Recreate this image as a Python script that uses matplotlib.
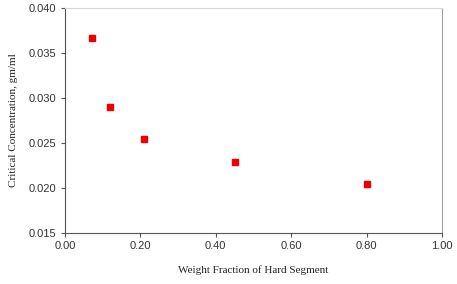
import matplotlib
matplotlib.use("Agg")
import matplotlib.pyplot as plt

# weight fraction of hard segment vs critical concentration
weight_fraction = [0.071, 0.12, 0.209, 0.45, 0.80]
critical_conc = [0.0367, 0.0290, 0.0254, 0.0229, 0.0204]

x_ticks = [0.0, 0.2, 0.4, 0.6, 0.8, 1.0]
y_ticks = [0.015, 0.020, 0.025, 0.030, 0.035, 0.040]

fig = plt.figure(figsize=(4.57, 2.84), dpi=100)
ax = fig.add_axes([0.142, 0.181, 0.825, 0.791])

ax.plot(weight_fraction, critical_conc, linestyle='none', marker='s',
        markersize=5, color='#ee0000')

ax.set_xlim(0, 1.0)
ax.set_ylim(0.015, 0.040)
ax.set_xticks(x_ticks)
ax.set_yticks(y_ticks)
ax.set_xticklabels([f"{v:.2f}" for v in x_ticks])
ax.set_yticklabels([f"{v:.3f}" for v in y_ticks])

for s in ax.spines.values():
    s.set_color('#a0a0a0')
    s.set_linewidth(0.8)
ax.spines['left'].set_color('#555555')
ax.spines['bottom'].set_color('#555555')
ax.spines['top'].set_color('#d8d8d8')

ax.tick_params(axis='both', direction='out', length=3, width=0.8,
               color='#555555', labelsize=8, labelcolor='#333333', pad=3)
for lab in ax.get_xticklabels() + ax.get_yticklabels():
    lab.set_fontfamily('Liberation Sans')

ax.set_xlabel('Weight Fraction of Hard Segment', fontfamily='Liberation Serif',
              fontsize=8, color='#222222', labelpad=10)
ax.set_ylabel('Critical Concentration, gm/ml', fontfamily='Liberation Serif',
              fontsize=8, color='#222222', labelpad=8)

fig.savefig('out.png', dpi=100)
